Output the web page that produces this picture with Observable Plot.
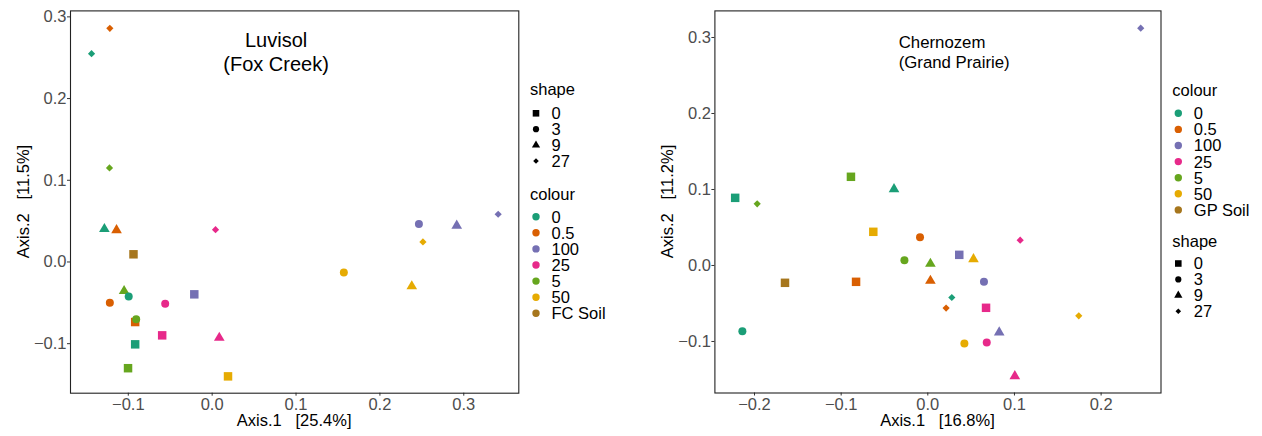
<!DOCTYPE html>
<html>
<head>
<meta charset="utf-8">
<script src="https://cdn.jsdelivr.net/npm/d3@7"></script>
<script src="https://cdn.jsdelivr.net/npm/@observablehq/plot@0.6"></script>
<style>
  html, body { margin: 0; padding: 0; background: #fff; }
  #chart { position: relative; width: 1262px; height: 436px; overflow: hidden; }
  #chart > svg { position: absolute; top: 0; }
  #chart text.keep { white-space: pre; }
</style>
</head>
<body>
<div id="chart"></div>
<script>
const FONT = '"Liberation Sans", Arial, Helvetica, sans-serif';

// Sampling day (shape) and dose (colour) levels
const shapeLevels = ["0", "3", "9", "27"];
const fcColourLevels = ["0", "0.5", "100", "25", "5", "50", "FC Soil"];
const gpColourLevels = ["0", "0.5", "100", "25", "5", "50", "GP Soil"];
const dark2 = ["#1B9E77", "#D95F02", "#7570B3", "#E7298A", "#66A61E", "#E6AB02", "#A6761D"];

// Luvisol (Fox Creek) ordination scores
const fcColour = ["0", "0.5", "100", "25", "5", "50", "FC Soil",
                  "0", "0.5", "100", "25", "5", "50",
                  "0", "0.5", "100", "25", "5", "50",
                  "0", "0.5", "100", "25", "5", "50"];
const fcShape  = ["0", "0", "0", "0", "0", "0", "0",
                  "9", "9", "9", "9", "9", "9",
                  "3", "3", "3", "3", "3", "3",
                  "27", "27", "27", "27", "27", "27"];
const fcAxis1  = [-0.0918, -0.0918, -0.0213, -0.0596, -0.1003, 0.0189, -0.0938,
                  -0.1285, -0.1140, 0.2916, 0.0085, -0.1050, 0.2380,
                  -0.0995, -0.1220, 0.2465, -0.0560, -0.0906, 0.1570,
                  -0.1438, -0.1220, 0.3410, 0.0040, -0.1224, 0.2513];
const fcAxis2  = [-0.1008, -0.0735, -0.0396, -0.0898, -0.1300, -0.1400, 0.0094,
                  0.0404, 0.0390, 0.0445, -0.0927, -0.0355, -0.0298,
                  -0.0424, -0.0498, 0.0465, -0.0510, -0.0702, -0.0130,
                  0.2550, 0.2860, 0.0584, 0.0396, 0.1151, 0.0245];

// Chernozem (Grand Prairie) ordination scores
const gpColour = ["0", "0.5", "100", "25", "5", "50", "GP Soil",
                  "0", "0.5", "100", "25", "5", "50",
                  "0", "0.5", "100", "25", "5", "50",
                  "0", "0.5", "100", "25", "5", "50"];
const gpShape  = fcShape.slice();
const gpAxis1  = [-0.2223, -0.0828, 0.0363, 0.0672, -0.0887, -0.0629, -0.1648,
                  -0.0390, 0.0030, 0.0824, 0.1004, 0.0030, 0.0527,
                  -0.2140, -0.0090, 0.0648, 0.0680, -0.0270, 0.0422,
                  0.0277, 0.0211, 0.2457, 0.1066, -0.1969, 0.1742];
const gpAxis2  = [0.0890, -0.0215, 0.0140, -0.0557, 0.1167, 0.0443, -0.0228,
                  0.1004, -0.0202, -0.0880, -0.1456, 0.0022, 0.0083,
                  -0.0864, 0.0373, -0.0215, -0.1013, 0.0070, -0.1026,
                  -0.0421, -0.0561, 0.3123, 0.0333, 0.0811, -0.0662];

const tickValues = [-0.2, -0.1, 0, 0.1, 0.2, 0.3];

// Point glyphs (filled square, circle, triangle and small diamond)
const symSquare = {draw(ctx, size) { const r = Math.sqrt(size / Math.PI) * 1.06; ctx.rect(-r, -r, 2 * r, 2 * r); }};
const symCircle = {draw(ctx, size) { const r = Math.sqrt(size / Math.PI); ctx.moveTo(r, 0); ctx.arc(0, 0, r, 0, 2 * Math.PI); }};
const symTriangle = {draw(ctx, size) {
  const r = Math.sqrt(size / Math.PI);
  ctx.moveTo(0, -1.52 * r); ctx.lineTo(1.33 * r, 0.76 * r); ctx.lineTo(-1.33 * r, 0.76 * r); ctx.closePath();
}};
const symDiamond = {draw(ctx, size) {
  const r = Math.sqrt(size / Math.PI) * 0.9;
  ctx.moveTo(0, -r); ctx.lineTo(r, 0); ctx.lineTo(0, r); ctx.lineTo(-r, 0); ctx.closePath();
}};
const glyphs = [symSquare, symCircle, symTriangle, symDiamond];

function rowsOf(colour, shape, a1, a2) {
  return colour.map((c, i) => ({colour: c, shape: shape[i], axis1: a1[i], axis2: a2[i]}));
}

function panel(o) {
  const rows = rowsOf(o.colour, o.shape, o.axis1, o.axis2);
  const svg = Plot.plot({
    width: o.width, height: 436,
    marginLeft: o.marginLeft, marginRight: o.marginRight, marginTop: o.marginTop, marginBottom: o.marginBottom,
    style: {fontFamily: FONT, fontSize: "16.5px", color: "#4D4D4D", background: "transparent", overflow: "visible"},
    x: {domain: o.xDomain},
    y: {domain: o.yDomain},
    color: {domain: o.colourLevels, range: dark2},
    symbol: {domain: shapeLevels, range: glyphs},
    marks: [
      Plot.axisX(tickValues.filter(t => t >= o.xDomain[0] && t <= o.xDomain[1]),
        {tickSize: 3, tickPadding: 2, tickFormat: d3.format(".1f"), label: null, stroke: "#333", fill: "#4D4D4D"}),
      Plot.axisY(tickValues.filter(t => t >= o.yDomain[0] && t <= o.yDomain[1]),
        {tickSize: 3, tickPadding: 1, tickFormat: d3.format(".1f"), label: null, stroke: "#333", fill: "#4D4D4D"}),
      Plot.dot(rows, {x: "axis1", y: "axis2", fill: "colour", symbol: "shape", r: 4}),
      Plot.text(o.title, {x: "x", y: "y", text: "label", textAnchor: o.titleAnchor, lineAnchor: "top",
        fontSize: o.titleSize, lineHeight: o.titleLineHeight, fill: "black"}),
      Plot.frame({stroke: "#222", strokeWidth: 1.1})
    ]
  });
  svg.style.left = o.left + "px";
  const s = d3.select(svg);
  const fx0 = o.marginLeft, fx1 = o.width - o.marginRight;
  const fy0 = o.marginTop, fy1 = 436 - o.marginBottom;
  s.append("text").attr("class", "keep").attr("xml:space", "preserve")
    .attr("x", (fx0 + fx1) / 2).attr("y", 426).attr("text-anchor", "middle")
    .attr("fill", "black").attr("font-size", 16.5).attr("font-family", FONT).text(o.xLabel);
  s.append("text").attr("class", "keep").attr("xml:space", "preserve")
    .attr("transform", `translate(${fx0 - 41},${(fy0 + fy1) / 2}) rotate(-90)`).attr("text-anchor", "middle")
    .attr("fill", "black").attr("font-size", 16.5).attr("font-family", FONT).text(o.yLabel);
  document.getElementById("chart").appendChild(svg);
}

panel({
  left: 0, width: 525, marginLeft: 70, marginRight: 6.7, marginTop: 10.4, marginBottom: 43.3,
  xDomain: [-0.1689, 0.3656], yDomain: [-0.1606, 0.3073],
  colour: fcColour, shape: fcShape, axis1: fcAxis1, axis2: fcAxis2, colourLevels: fcColourLevels,
  title: [{x: 0.0762, y: 0.2834, label: "Luvisol\n(Fox Creek)"}],
  titleAnchor: "middle", titleSize: 20, titleLineHeight: 1.19,
  xLabel: "Axis.1   [25.4%]", yLabel: "Axis.2   [11.5%]"
});

panel({
  left: 640, width: 525, marginLeft: 74.4, marginRight: 4.5, marginTop: 10.4, marginBottom: 43.5,
  xDomain: [-0.2457, 0.2691], yDomain: [-0.1678, 0.335],
  colour: gpColour, shape: gpShape, axis1: gpAxis1, axis2: gpAxis2, colourLevels: gpColourLevels,
  title: [{x: -0.0336, y: 0.3046, label: "Chernozem\n(Grand Prairie)"}],
  titleAnchor: "start", titleSize: 16.8, titleLineHeight: 1.17,
  xLabel: "Axis.1   [16.8%]", yLabel: "Axis.2   [11.2%]"
});

// Legends for both panels
const legendSvg = d3.select("#chart").append("svg")
  .attr("width", 1262).attr("height", 436).style("left", "0px")
  .attr("font-family", FONT).attr("font-size", 16.5);

function legendBlock(g, {x, titleY, firstY, step, title, keys, fills, symbols, symR}) {
  g.append("text").attr("x", x - 6).attr("y", titleY).attr("fill", "black").text(title);
  keys.forEach((k, i) => {
    const cy = firstY + i * step;
    g.append("path")
      .attr("transform", `translate(${x},${cy})`)
      .attr("d", d3.symbol(symbols[i], Math.PI * symR * symR)())
      .attr("fill", fills[i]);
    g.append("text").attr("x", x + 15.5).attr("y", cy).attr("dy", "0.36em").attr("fill", "black").text(k);
  });
}

const shapeBlock = (x, titleY, firstY) => legendBlock(legendSvg, {
  x, titleY, firstY, step: 15.9, title: "shape", keys: shapeLevels,
  fills: shapeLevels.map(() => "black"), symbols: glyphs, symR: 3.1
});
const colourBlock = (x, titleY, firstY, levels) => legendBlock(legendSvg, {
  x, titleY, firstY, step: 16.1, title: "colour", keys: levels,
  fills: dark2, symbols: levels.map(() => symCircle), symR: 3.7
});

shapeBlock(536, 95, 113.3);
colourBlock(536, 200, 216.7, fcColourLevels);
colourBlock(1178.3, 96, 113.3, gpColourLevels);
shapeBlock(1178.3, 247, 263.5);
</script>
</body>
</html>
